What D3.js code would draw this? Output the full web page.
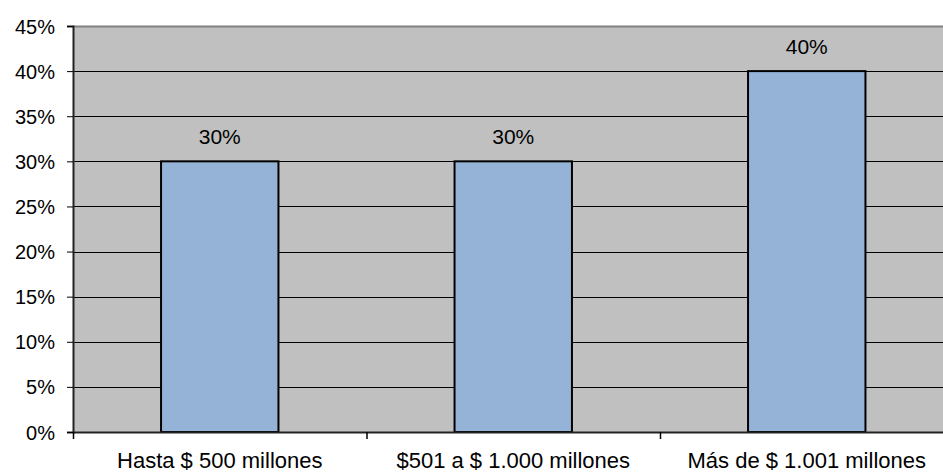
<!DOCTYPE html>
<html><head><meta charset="utf-8">
<script src="https://cdn.jsdelivr.net/npm/d3@7"></script>
<style>
html,body{margin:0;padding:0;background:#fff;overflow:hidden;}
svg{display:block;}
text{font-family:"Liberation Sans",Arial,sans-serif;fill:#000;}
</style></head>
<body>
<svg id="chart" width="943" height="473"></svg>
<script>
const categories = ["Hasta $ 500 millones", "$501 a $ 1.000 millones", "Más de $ 1.001 millones"];
const values = [0.30, 0.30, 0.40];
const valueLabels = ["30%", "30%", "40%"];
const yTicks = [0, 0.05, 0.10, 0.15, 0.20, 0.25, 0.30, 0.35, 0.40, 0.45];

const svg = d3.select("#chart");
const mLeft = 73, mRight = 953.5, mTop = 26, mBottom = 432;
const FONT = "'Liberation Sans', Arial, sans-serif";

const x = d3.scaleBand().domain(categories).range([mLeft, mRight]).paddingInner(0.6).paddingOuter(0.3);
const xb = d3.scaleBand().domain(categories).range([mLeft, mRight]);
const y = d3.scaleLinear().domain([0, 0.45]).range([mBottom, mTop]);

// plot background
svg.append("rect").attr("x", mLeft).attr("y", mTop).attr("width", mRight - mLeft).attr("height", mBottom - mTop).attr("fill", "#C0C0C0");
// top border
svg.append("line").attr("x1", mLeft).attr("x2", mRight).attr("y1", mTop + 0.5).attr("y2", mTop + 0.5).attr("stroke", "#808080").attr("stroke-width", 2);

// gridlines
svg.append("g").selectAll("line").data(yTicks.filter(d => d > 0 && d < 0.45)).join("line")
  .attr("x1", mLeft).attr("x2", mRight)
  .attr("y1", d => Math.round(y(d)) + 0.5).attr("y2", d => Math.round(y(d)) + 0.5)
  .attr("stroke", "#000").attr("stroke-width", 1);

// bars
svg.append("g").selectAll("rect").data(values).join("rect")
  .attr("x", (d, i) => x(categories[i]))
  .attr("y", d => y(d))
  .attr("width", x.bandwidth())
  .attr("height", d => mBottom - y(d))
  .attr("fill", "#95B3D7").attr("stroke", "#000").attr("stroke-width", 2);

// value labels
svg.append("g").selectAll("text").data(values).join("text")
  .attr("x", (d, i) => x(categories[i]) + x.bandwidth() / 2)
  .attr("y", d => y(d) - 17)
  .attr("text-anchor", "middle").attr("font-size", 21)
  .text((d, i) => valueLabels[i]);

// y axis
const yAxis = d3.axisLeft(y).tickValues(yTicks).tickFormat(d3.format(".0%")).tickSize(6).tickPadding(12);
const gy = svg.append("g").attr("transform", `translate(${mLeft},0)`).call(yAxis);
gy.select(".domain").attr("stroke", "#222").attr("stroke-width", 2);
gy.selectAll(".tick line").attr("stroke", "#000");
gy.selectAll(".tick text").attr("font-size", 20).attr("font-family", FONT).attr("fill", "#000").attr("dy", "0.35em");

// x axis
const xAxis = d3.axisBottom(xb).tickSize(0).tickPadding(30);
const gx = svg.append("g").attr("transform", `translate(0,${mBottom})`).call(xAxis);
gx.select(".domain").attr("stroke", "#222").attr("stroke-width", 2);
gx.selectAll(".tick text").attr("font-size", 22).attr("font-family", FONT).attr("fill", "#000").attr("y", 36).attr("dy", 0);
// category boundary ticks
gx.append("g").selectAll("line").data(categories).join("line")
  .attr("x1", d => xb(d) + 0.5).attr("x2", d => xb(d) + 0.5)
  .attr("y1", 0).attr("y2", 7).attr("stroke", "#000").attr("stroke-width", 1.5);
</script>
</body></html>
